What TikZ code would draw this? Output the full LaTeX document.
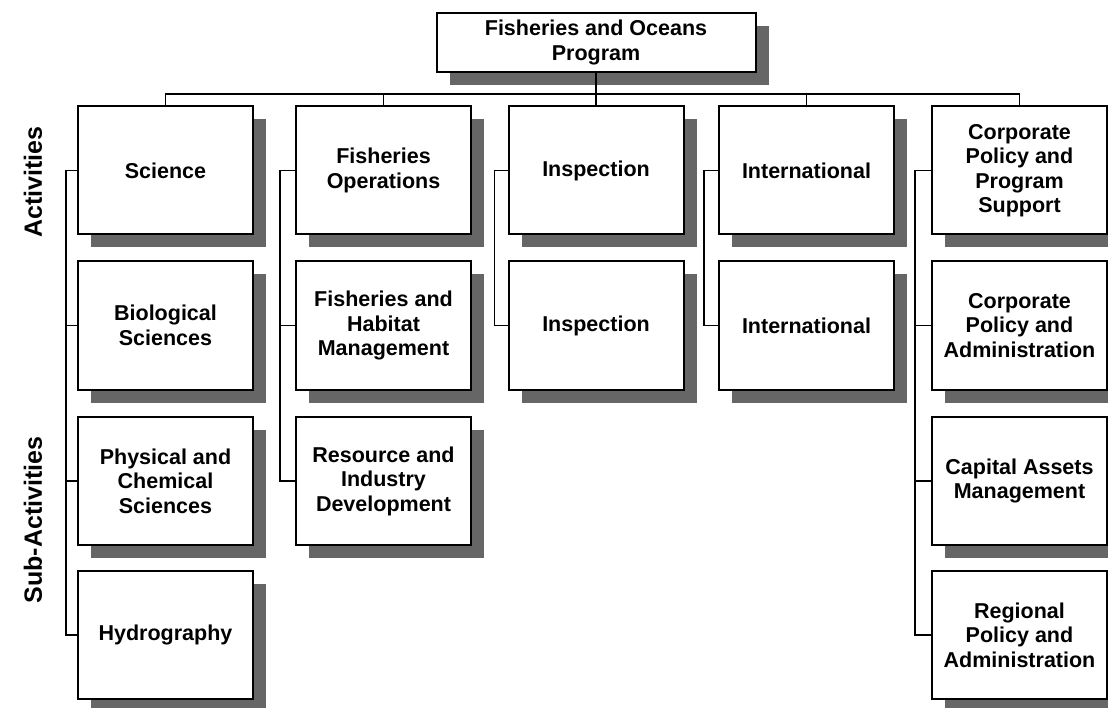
\documentclass[tikz,border=0pt]{standalone}
\usepackage{fontspec}
\setmainfont{Liberation Sans}
\usetikzlibrary{shadows}

\tikzset{
  unit/.style={draw=black,line width=2pt,fill=white,align=center,
    minimum width=175pt,minimum height=128pt,inner sep=2pt,
    font=\bfseries\fontsize{21.5}{24.5}\selectfont,
    drop shadow={shadow xshift=13pt,shadow yshift=-13pt,fill=black!60,opacity=1}},
  link/.style={line width=1.8pt,black},
  sidelabel/.style={rotate=90,font=\bfseries\fontsize{25}{28}\selectfont}
}

\begin{document}
\begin{tikzpicture}[x=1pt,y=-1pt]

\useasboundingbox (0,0) rectangle (1108,708);

\node[sidelabel] (act) at (33,182) {Activities};
\node[sidelabel] (subact) at (33,520) {Sub-Activities};


\node[unit,minimum width=319pt,minimum height=59pt] (prog) at (596,42.5) {Fisheries and Oceans\\Program};


% activities
\node[unit] (sci) at (165.5,170.5) {Science};
\node[unit] (fops) at (383.5,170.5) {Fisheries\\Operations};
\node[unit] (insp) at (596,170.5) {Inspection};
\node[unit] (intl) at (806.5,170.5) {International};
\node[unit] (corp) at (1019.5,170.5) {Corporate\\Policy and\\Program\\Support};


% sub-activities
\node[unit] (bio) at (165.5,325.5) {Biological\\Sciences};
\node[unit] (phys) at (165.5,481) {Physical and\\Chemical\\Sciences};
\node[unit] (hydro) at (165.5,635) {Hydrography};

\node[unit] (fhm) at (383.5,325.5) {Fisheries and\\Habitat\\Management};
\node[unit] (rid) at (383.5,481) {Resource and\\Industry\\Development};

\node[unit] (inspsub) at (596,325.5) {Inspection};

\node[unit] (intlsub) at (806.5,325.5) {International};

\node[unit] (cpa) at (1019.5,325.5) {Corporate\\Policy and\\Administration};
\node[unit] (cam) at (1019.5,481) {Capital Assets\\Management};
\node[unit] (rpa) at (1019.5,635) {Regional\\Policy and\\Administration};


\draw[link] (prog.south) -- ++(0,21) -| (sci.north);
\draw[link] (prog.south) -- ++(0,21) -| (fops.north);
\draw[link] (prog.south) -- (insp.north);
\draw[link] (prog.south) -- ++(0,21) -| (intl.north);
\draw[link] (prog.south) -- ++(0,21) -| (corp.north);


\draw[link] (sci.west) -- ++(-11,0) |- (bio.west);
\draw[link] (sci.west) -- ++(-11,0) |- (phys.west);
\draw[link] (sci.west) -- ++(-11,0) |- (hydro.west);

\draw[link] (fops.west) -- ++(-15,0) |- (fhm.west);
\draw[link] (fops.west) -- ++(-15,0) |- (rid.west);

\draw[link] (insp.west) -- ++(-13,0) |- (inspsub.west);

\draw[link] (intl.west) -- ++(-14,0) |- (intlsub.west);

\draw[link] (corp.west) -- ++(-16,0) |- (cpa.west);
\draw[link] (corp.west) -- ++(-16,0) |- (cam.west);
\draw[link] (corp.west) -- ++(-16,0) |- (rpa.west);

\end{tikzpicture}
\end{document}
